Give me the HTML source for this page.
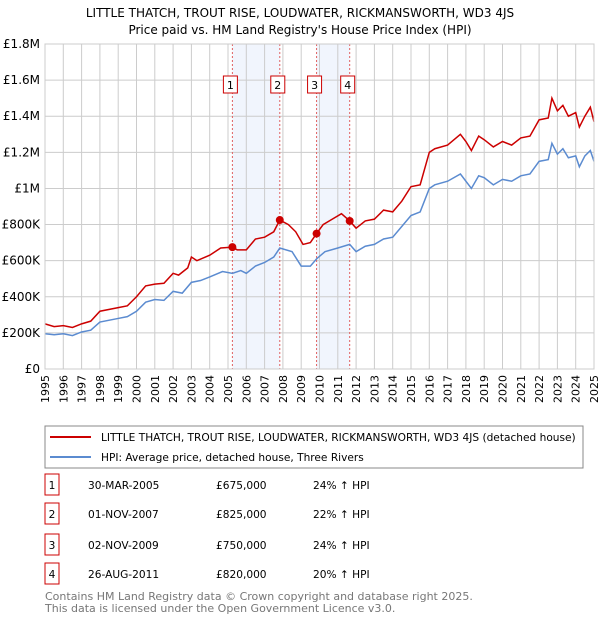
<!DOCTYPE html>
<html><head><meta charset="utf-8"><style>
body{margin:0;background:#fff;font-family:"Liberation Sans","DejaVu Sans",sans-serif;}
svg text{font-family:"DejaVu Sans","Liberation Sans",sans-serif;}
</style></head><body>
<svg id="c" width="600" height="620" xmlns="http://www.w3.org/2000/svg">
<text x="300" y="17" text-anchor="middle" font-size="12" fill="#000">LITTLE THATCH, TROUT RISE, LOUDWATER, RICKMANSWORTH, WD3 4JS</text>
<text x="300" y="34" text-anchor="middle" font-size="12" fill="#000">Price paid vs. HM Land Registry's House Price Index (HPI)</text>
<g id="plot"></g>
<rect x="45" y="426" width="538" height="42" fill="#fff" stroke="#888"/>
<line x1="50" y1="437" x2="91" y2="437" stroke="#cc0000" stroke-width="2"/>
<text x="101" y="441" font-size="10.6">LITTLE THATCH, TROUT RISE, LOUDWATER, RICKMANSWORTH, WD3 4JS (detached house)</text>
<line x1="50" y1="457" x2="91" y2="457" stroke="#5b8bd0" stroke-width="2"/>
<text x="101" y="461" font-size="10.6">HPI: Average price, detached house, Three Rivers</text>
<g id="table" font-size="10.6"></g>
<text x="45" y="600" font-size="11" fill="#777">Contains HM Land Registry data © Crown copyright and database right 2025.</text>
<text x="45" y="612" font-size="11" fill="#777">This data is licensed under the Open Government Licence v3.0.</text>
</svg>
<script>
const yearTicks=[1995,1996,1997,1998,1999,2000,2001,2002,2003,2004,2005,2006,2007,2008,2009,2010,2011,2012,2013,2014,2015,2016,2017,2018,2019,2020,2021,2022,2023,2024,2025];
const yTicks=[0,200000,400000,600000,800000,1000000,1200000,1400000,1600000,1800000];
const yTickLabels=["£0","£200K","£400K","£600K","£800K","£1M","£1.2M","£1.4M","£1.6M","£1.8M"];
const redT=[1995,1995.5,1996,1996.5,1997,1997.5,1998,1999,1999.5,2000,2000.5,2001,2001.5,2002,2002.3,2002.8,2003,2003.3,2004,2004.6,2005.24,2005.5,2006,2006.5,2007,2007.5,2007.83,2008.3,2008.7,2009.1,2009.5,2009.84,2010.2,2010.7,2011.2,2011.65,2012,2012.5,2013,2013.5,2014,2014.5,2015,2015.5,2016,2016.3,2017,2017.7,2018,2018.3,2018.7,2019,2019.5,2020,2020.5,2021,2021.5,2022,2022.5,2022.7,2023,2023.3,2023.6,2024,2024.2,2024.5,2024.8,2025];
const redV=[250,235,240,230,250,265,320,340,350,400,460,470,475,530,520,560,620,600,630,670,675,660,660,720,730,760,825,800,760,690,700,750,800,830,860,820,780,820,830,880,870,930,1010,1020,1200,1220,1240,1300,1260,1210,1290,1270,1230,1260,1240,1280,1290,1380,1390,1500,1430,1460,1400,1420,1340,1400,1450,1370];
const hpiT=[1995,1995.5,1996,1996.5,1997,1997.5,1998,1999,1999.5,2000,2000.5,2001,2001.5,2002,2002.5,2003,2003.5,2004,2004.7,2005.24,2005.7,2006,2006.5,2007,2007.5,2007.83,2008.5,2009,2009.5,2009.84,2010.3,2011,2011.65,2012,2012.5,2013,2013.5,2014,2014.5,2015,2015.5,2016,2016.3,2017,2017.7,2018.3,2018.7,2019,2019.5,2020,2020.5,2021,2021.5,2022,2022.5,2022.7,2023,2023.3,2023.6,2024,2024.2,2024.5,2024.8,2025];
const hpiV=[195,190,195,185,205,215,260,280,290,320,370,385,380,430,420,480,490,510,540,530,545,530,570,590,620,670,650,570,570,610,650,670,690,650,680,690,720,730,790,850,870,1000,1020,1040,1080,1000,1070,1060,1020,1050,1040,1070,1080,1150,1160,1250,1190,1220,1170,1180,1120,1180,1210,1150];
const saleT=[2005.24,2007.83,2009.84,2011.65];
const saleV=[675000,825000,750000,820000];
const saleLabels=["1","2","3","4"];
const saleDates=["30-MAR-2005","01-NOV-2007","02-NOV-2009","26-AUG-2011"];
const salePrices=["£675,000","£825,000","£750,000","£820,000"];
const saleHpi=["24% ↑ HPI","22% ↑ HPI","24% ↑ HPI","20% ↑ HPI"];

const X0=45,X1=594,Y0=369,Y1=44;
const xs=t=>X0+(t-1995)/30*(X1-X0);
const ys=v=>Y0-v/1800000*(Y0-Y1);
const NS="http://www.w3.org/2000/svg";
const plot=document.getElementById('plot');
function mk(tag,attrs,parent){const e=document.createElementNS(NS,tag);for(const k in attrs)e.setAttribute(k,attrs[k]);(parent||plot).appendChild(e);return e;}
for(let i=0;i<saleT.length;i+=2){
  const b=mk('rect',{x:xs(saleT[i]),y:Y1,width:xs(saleT[i+1])-xs(saleT[i]),height:Y0-Y1,fill:'#eef3fc',opacity:0.8});
  
  
}
yearTicks.forEach(t=>{
  const l=mk('line',{x1:xs(t),x2:xs(t),y1:Y1,y2:Y0,stroke:'#ccc','stroke-width':1});
  
  
  const tx=mk('text',{x:xs(t)+4,y:Y0+6,'font-size':11,'text-anchor':'end',transform:`rotate(-90 ${xs(t)+4} ${Y0+6})`});
  tx.textContent=t;
  
  
});
yTicks.forEach((v,i)=>{
  const l=mk('line',{x1:X0,x2:X1,y1:ys(v),y2:ys(v),stroke:'#ccc','stroke-width':1});
  
  
  const tx=mk('text',{x:X0-5,y:ys(v)+4,'font-size':12,'text-anchor':'end'});
  tx.textContent=yTickLabels[i];
  
  
});
saleT.forEach((t,i)=>{
  const l=mk('line',{x1:xs(t),x2:xs(t),y1:Y1,y2:Y0,stroke:'#e06060','stroke-dasharray':'2,2','stroke-width':1});
  
  
  const r=mk('rect',{x:xs(t)-9,y:76,width:14,height:17,fill:'#fff',stroke:'#cc0000'});
  
  
  const tx=mk('text',{x:xs(t)-2,y:89,'font-size':11,'text-anchor':'middle'});
  tx.textContent=saleLabels[i];
  
  
});
const hp=mk('polyline',{points:hpiT.map((t,i)=>xs(t)+','+ys(hpiV[i]*1000)).join(' '),fill:'none',stroke:'#5b8bd0','stroke-width':1.5});


const rp=mk('polyline',{points:redT.map((t,i)=>xs(t)+','+ys(redV[i]*1000)).join(' '),fill:'none',stroke:'#cc0000','stroke-width':1.5});


saleT.forEach((t,i)=>{
  const c=mk('circle',{cx:xs(t),cy:ys(saleV[i]),r:4,fill:'#cc0000'});
  
  
});
const ax=mk('rect',{x:X0,y:Y1,width:X1-X0,height:Y0-Y1,fill:'none',stroke:'#ccc'});


const tbl=document.getElementById('table');
[485,514,545,574].forEach((yy,i)=>{
  const r=mk('rect',{x:45,y:yy-11,width:14,height:21,fill:'#fff',stroke:'#cc0000'},tbl);
  
  
  const vals=[[52,saleLabels[i],'middle'],[88,saleDates[i],'start'],[216,salePrices[i],'start'],[313,saleHpi[i],'start']];
  vals.forEach(v=>{
    const tx=mk('text',{x:v[0],y:yy+4,'text-anchor':v[2]},tbl);
    tx.textContent=v[1];
    
    
  });
});
</script>
</body></html>
